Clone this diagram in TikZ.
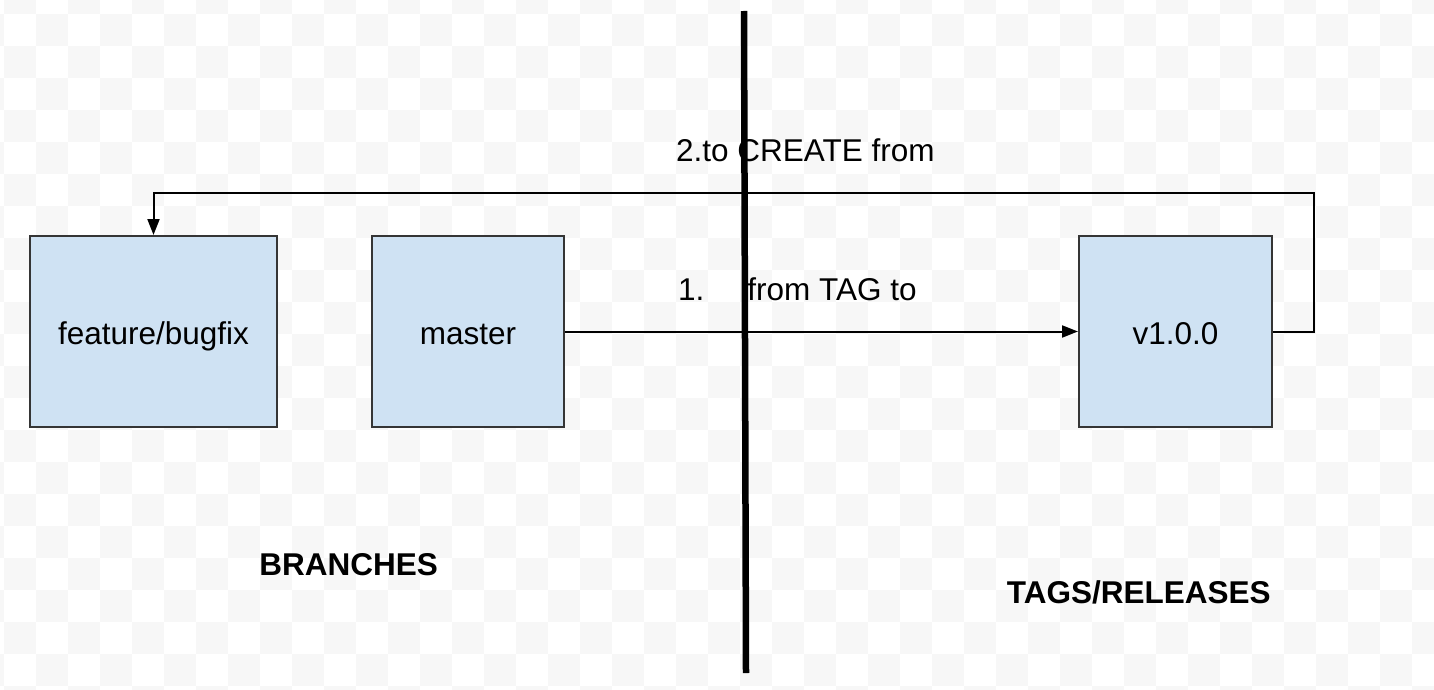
\documentclass[tikz,border=0pt]{standalone}
\usepackage{fontspec}
\setmainfont{Liberation Sans}
\usetikzlibrary{arrows.meta}
\definecolor{boxfill}{HTML}{CFE2F3}
\definecolor{boxline}{HTML}{353535}
\definecolor{chk}{RGB}{247,247,247}
\tikzset{
  boxnode/.style={draw=boxline, line width=2pt, fill=boxfill, minimum height=191pt,
    inner sep=0pt, text height=25pt, text depth=0pt,
    font=\fontsize{31.5}{38}\selectfont},
  lbl/.style={inner sep=0pt, font=\fontsize{31.5}{38}\selectfont},
  boldlbl/.style={inner sep=0pt, font=\fontsize{31.5}{38}\selectfont\bfseries},
  conn/.style={line width=2pt, draw=black, -{Triangle[length=16pt,width=12pt]}},
  divider/.style={line width=6.5pt, draw=black}
}
\begin{document}
\begin{tikzpicture}[x=1pt,y=-1pt]
\useasboundingbox (0,0) rectangle (1434,690);
\fill[white] (0,0) rectangle (1434,690);
\begin{scope}
\clip (0,0) rectangle (1434,690);
\foreach \c in {-1,...,44}{
  \foreach \r in {-1,...,21}{
    \pgfmathtruncatemacro\parity{\c+\r+2}
    \ifodd\parity
      \fill[chk] ({4+32*\c},{14+32*\r}) rectangle ++(32,32);
    \fi
  }
}
\end{scope}
% boxes
\node[boxnode, minimum width=247pt] (feat) at (153.5,331.5) {feature/bugfix};
\node[boxnode, minimum width=192pt] (master) at (468,331.5) {master};
\node[boxnode, minimum width=193pt] (v1) at (1175.5,331.5) {v1.0.0};
% texts
\node[lbl, anchor=base west] (t2) at (676,161) {2.to CREATE from};
\node[lbl, anchor=base west] (t1) at (678,300) {1.\hspace{43pt}from TAG to};
\node[boldlbl, anchor=base] (br) at (348.7,575) {BRANCHES};
\node[boldlbl, anchor=base] (tr) at (1138.7,603) {TAGS/RELEASES};
% connectors
\coordinate (loopR) at (1314,193);
\draw[conn] (master.east) -- (v1.west);
\draw[conn] (v1.east) -| (loopR) -| (feat.north);
% divider
\coordinate (dtop) at (744,11);
\coordinate (dbot) at (746,673);
\draw[divider] (dtop) -- (dbot);
\end{tikzpicture}
\end{document}
